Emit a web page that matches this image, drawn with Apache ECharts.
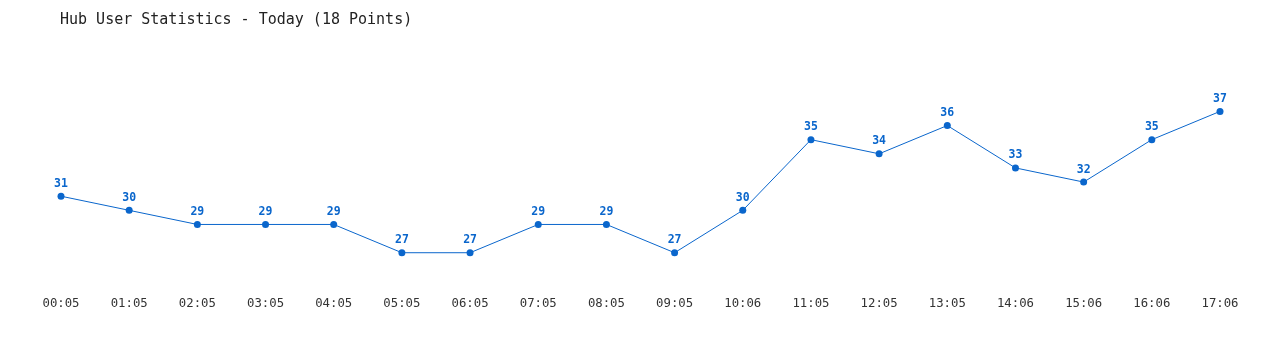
<!DOCTYPE html>
<html><head><meta charset="utf-8">
<script src="https://cdn.jsdelivr.net/npm/echarts@6/dist/echarts.min.js"></script>
<style>html,body{margin:0;padding:0;background:#fff}#c{width:1280px;height:350px}</style>
</head><body><div id="c"></div>
<script>
const categories = ['00:05','01:05','02:05','03:05','04:05','05:05','06:05','07:05','08:05','09:05','10:06','11:05','12:05','13:05','14:06','15:06','16:06','17:06'];
const users = [31,30,29,29,29,27,27,29,29,27,30,35,34,36,33,32,35,37];
const titleText = 'Hub User Statistics - Today (18 Points)';
const chart = echarts.init(document.getElementById('c'));
const mono = '"DejaVu Sans Mono", "Liberation Mono", monospace';
chart.setOption({
  animation: false,
  title: { text: titleText, left: 55, top: 8, textStyle: { fontFamily: mono, fontSize: 15, fontWeight: 'normal', color: '#222' } },
  grid: { left: 61, right: 60, top: 69, bottom: 69 },
  xAxis: { type: 'category', data: categories, boundaryGap: false,
    axisLine: { show: false }, axisTick: { show: false }, splitLine: { show: false },
    axisLabel: { color: '#333', fontFamily: mono, fontSize: 12.3, margin: 17 } },
  yAxis: { type: 'value', min: 25, max: 40, show: false, splitLine: { show: false } },
  series: [{ type: 'line', data: users, symbol: 'circle', symbolSize: 7,
    itemStyle: { color: '#0a66cc' }, lineStyle: { color: '#0a66cc', width: 1 },
    label: { show: true, position: 'top', distance: 3, color: '#0a66cc', fontFamily: mono, fontSize: 11.5, fontWeight: 'bold' } }]
});
</script></body></html>
